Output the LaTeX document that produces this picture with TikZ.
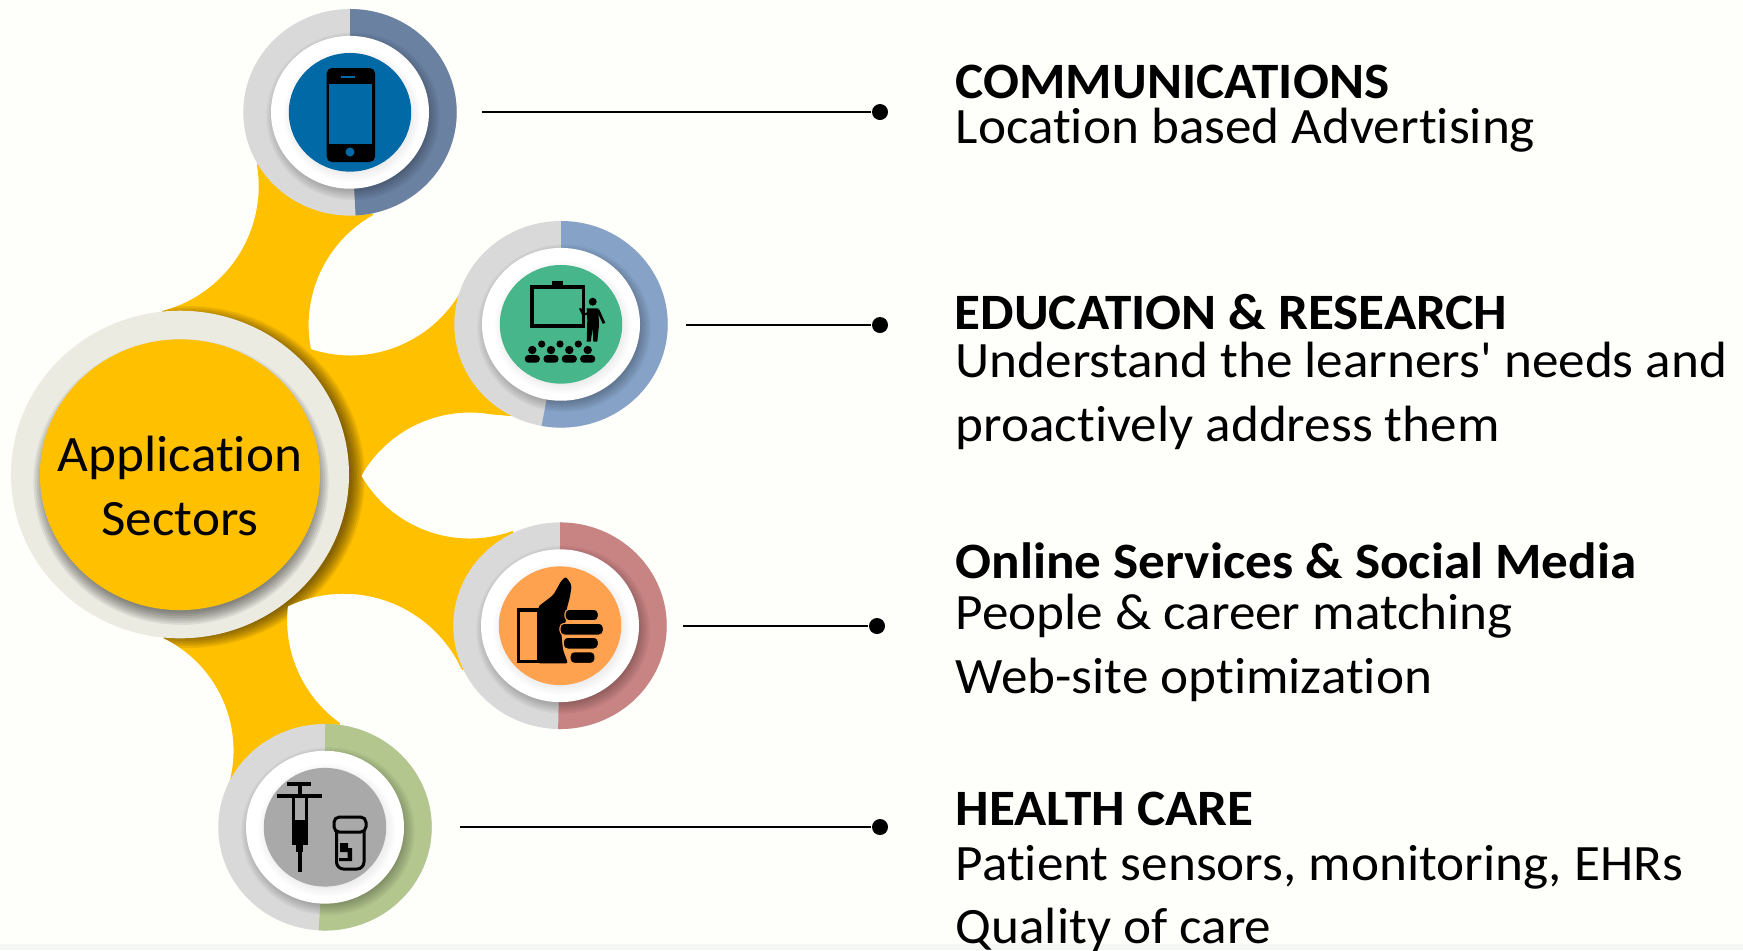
\documentclass[tikz,border=0pt]{standalone}
\usepackage{fontspec}
\setmainfont[Ligatures=NoCommon]{Carlito}
\newfontface\straightfont{Carlito}
\usetikzlibrary{positioning,shapes.geometric}

\definecolor{pagebg}{HTML}{FEFEFB}
\definecolor{pageband}{HTML}{F4F6F4}
\definecolor{sectoryellow}{HTML}{FFC000}
\definecolor{hubring}{HTML}{ECEBE2}
\definecolor{ringgrey}{HTML}{D9D9D9}
\definecolor{ringcomm}{HTML}{6A81A2}
\definecolor{ringedu}{HTML}{86A3C7}
\definecolor{ringsocial}{HTML}{C88383}
\definecolor{ringhealth}{HTML}{B2C68E}
\definecolor{disccomm}{HTML}{0069A6}
\definecolor{discedu}{HTML}{48B68B}
\definecolor{discsocial}{HTML}{FFA24F}
\definecolor{dischealth}{HTML}{A9A9A9}

\tikzset{
	disc/.style={ellipse,inner sep=0,minimum width=1.224cm,minimum height=1.186cm},
	hubdisc/.style={ellipse,inner sep=0,minimum width=2.8cm,minimum height=2.706cm,fill=sectoryellow},
	dotnode/.style={circle,inner sep=0,minimum size=0.16cm,fill=black},
	leader/.style={line width=0.65pt,black},
	headtext/.style={anchor=base west,inner sep=0,xscale=1.043,font=\fontsize{14.5}{17}\selectfont\bfseries},
	bodytext/.style={anchor=base west,inner sep=0,xscale=1.043,font=\fontsize{14.5}{17}\selectfont},
	hubtext/.style={anchor=base,inner sep=0,xscale=1.043,font=\fontsize{14.5}{17}\selectfont}
}

% soft shadow: x, y, x radius, opacity of one layer
\newcommand{\softshadow}[4]{\foreach \k in {0,...,7} \fill[black,opacity=#4] (#1,#2) circle[x radius={#3-5+\k*1.8},y radius={0.968*(#3-5+\k*1.8)}];}

% outline of the yellow arms, in pixels of the reference
\def\armpath{(162,311) arc[start angle=75.5,end angle=-9.8,radius=129] -- (350,112) -- (373,215)
	arc[start angle=240.6,end angle=169.1,radius=126.5]
	arc[start angle=108.2,end angle=26,radius=127] -- (561,325) -- (511,416) -- (491.7,414.4)
	arc[start angle=-80,end angle=-149,radius=125] -- (361.5,476)
	arc[start angle=150,end angle=70,radius=125] -- (560,626) -- (462,670)
	arc[start angle=-24.4,end angle=-115.4,radius=130]
	arc[start angle=186.3,end angle=125.6,radius=126.6] -- (325,827) -- (230,780)
	arc[start angle=13.7,end angle=-63.8,radius=125] -- cycle}

\begin{document}
\begin{tikzpicture}[x=0.01cm,y=-0.01cm]
	\path[use as bounding box,clip] (0,0) rectangle (1743,950);
	\fill[pagebg] (0,0) rectangle (1743,950);
	\fill[pageband] (0,944) rectangle (1743,950);

	%arms
	\fill[sectoryellow] \armpath;
	\begin{scope}
		\clip \armpath;
		\softshadow{188}{477}{169}{0.075}
	\end{scope}

	%hub
	\fill[hubring] (180,474.5) circle[x radius=169,y radius=163.8];
	\softshadow{181}{482}{140}{0.065}
	\node[hubdisc] (hub) at (180,474.7) {};
	\node[hubtext] (hubtop) at (180,471.7) {Application};
	\node[hubtext] (hubbottom) at (180,535.7) {Sectors};

	%the four rings
	\foreach \cx/\cy/\ringcol/\disccol/\cutang/\name in {350/112.3/ringcomm/disccomm/87/comm,561/324.3/ringedu/discedu/100.5/edu,560/625.7/ringsocial/discsocial/91/social,325/827.2/ringhealth/dischealth/93.4/health}{
		\fill[ringgrey] (\cx,\cy) circle[x radius=106.7,y radius=103.3];
		\fill[\ringcol] (\cx,\cy) -- ++(0,-103.3) arc[start angle=-90,end angle=\cutang,x radius=106.7,y radius=103.3] -- cycle;
		\softshadow{\cx+3}{\cy+4}{79}{0.04}
		\fill[white] (\cx,\cy) circle[x radius=79,y radius=76.4];
		\softshadow{\cx+2}{\cy+3}{61}{0.012}
		\node[disc,fill=\disccol] (\name) at (\cx,\cy) {};
	}

	%phone
	\fill[black,rounded corners=1.5pt] (326.7,68) rectangle (375,162);
	\fill[disccomm] (328.7,84.3) rectangle (372,144);
	\fill[disccomm] (350,152) circle[radius=4.5];
	\draw[disccomm,line width=0.3pt] (341,77)--(355,77);

	%board and teacher
	\draw[black,line width=1pt] (532,287)--(583.5,287)--(583.5,326)--(532,326)--cycle;
	\fill[black] (551.7,281) rectangle (562.7,287);
	\fill[black] (592.7,301.7) circle[radius=4];
	\fill[black] (586.7,308.3)--(598.3,308.3)--(599,325)--(597.3,341.7)--(593.3,341.7)--(592.7,328.3)--(590.7,341.7)--(586.7,341.7)--(587.3,320)--cycle;
	\draw[black,line width=0.6pt] (588,313)--(583.3,315)--(580,308.3);
	\draw[black,line width=0.8pt] (598,310)--(604,323.3);
	%pupils
	\foreach \hx in {541.7,560,578.3}
		\fill[black] (\hx,344) circle[radius=3.6];
	\foreach \hx in {532.3,551,569.3,587.7}{
		\fill[black] (\hx,350) circle[radius=4.2];
		\fill[black,rounded corners=1pt] ({\hx-7.5},362.7) rectangle ({\hx+7.5},355);
	}

	%thumb
	\draw[black,line width=0.95pt] (518.4,610)--(538.4,610)--(538.4,661.6)--(518.4,661.6)--cycle;
	\fill[black,rounded corners=0.6pt] (538,606.7)--(553.3,595)--(561.7,580)--(566,576.7)--(571.7,585)--(570,596.7)--(566.7,609)--(566,622)--(561,630)--(563,650)--(568,663.3)--(538,663.3)--cycle;
	\foreach \fa/\fb/\fc/\fd in {565/609.3/598.3/620.7,560/623.3/603.3/635,563.3/637.3/598.3/649,570/651.7/595/663.3}
		\draw[discsocial,fill=black,line width=0.3pt,rounded corners=1.2pt] (\fa,\fb) rectangle (\fc,\fd);

	%syringe
	\fill[black] (287.3,782.3) rectangle (311,785.7);
	\fill[black] (297.5,785) rectangle (301.5,795);
	\fill[black] (277.3,794.3) rectangle (321.7,798.3);
	\fill[black] (291.7,798) rectangle (308.3,845);
	\fill[dischealth] (295,798.3) rectangle (305,820);
	\fill[black] (296,845) rectangle (303,851.7);
	\fill[black] (298,851) rectangle (301.5,871.7);
	%jar
	\draw[black,line width=0.85pt,rounded corners=1.5pt] (334,817)--(366,817)--(366,832)--(334,832)--cycle;
	\draw[black,line width=0.85pt,rounded corners=2pt] (336.5,832)--(336.5,869)--(364,869)--(364,832);
	\fill[black] (340,843)--(348,843)--(348,848)--(352,848)--(352,861)--(339,861)--(339,858)--(347.5,858)--(347.5,852)--(340,852)--cycle;

	%leaders
	\coordinate (startcomm) at (482,112);
	\coordinate (startedu) at (686,325);
	\coordinate (startsocial) at (682.5,626);
	\coordinate (starthealth) at (459.5,827);
	\node[dotnode] (dotcomm) at (880,112) {};
	\node[dotnode] (dotedu) at (880,325) {};
	\node[dotnode] (dotsocial) at (877,626) {};
	\node[dotnode] (dothealth) at (880,827) {};
	\draw[leader] (startcomm)--(dotcomm);
	\draw[leader] (startedu)--(dotedu);
	\draw[leader] (startsocial)--(dotsocial);
	\draw[leader] (starthealth)--(dothealth);

	%texts
	\node[headtext] (headcomm) at (955,98.3) {COMMUNICATIONS};
	\node[bodytext] (textcomm) at (955,143.7) {Location based Advertising};
	\node[headtext] (headedu) at (954,329.8) {EDUCATION \& RESEARCH};
	\node[bodytext] (textedua) at (955,377.7) {Understand the learners{\straightfont '} needs and};
	\node[bodytext] (texteduh) at (955,441) {proactively address them};
	\node[headtext] (headsocial) at (955,578.3) {Online Services \& Social Media};
	\node[bodytext] (textsociala) at (955,629.5) {People \& career matching};
	\node[bodytext] (textsocialb) at (955,693.3) {Web-site optimization};
	\node[headtext] (headhealth) at (955,825) {HEALTH CARE};
	\node[bodytext] (texthealtha) at (955,880.3) {Patient sensors, monitoring, EHRs};
	\node[bodytext] (texthealthb) at (955,943.7) {Quality of care};
\end{tikzpicture}
\end{document}
